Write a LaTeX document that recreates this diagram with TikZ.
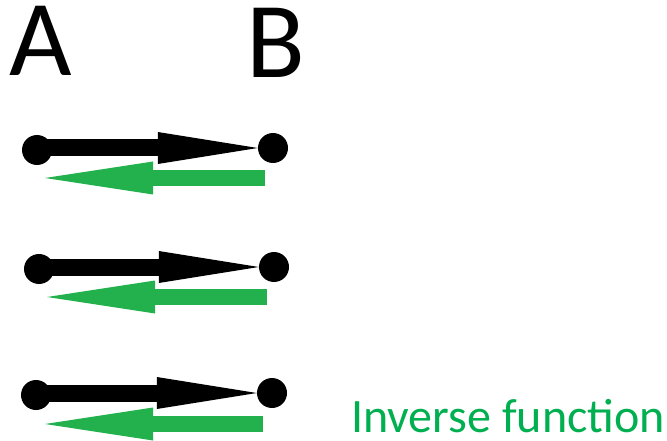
\documentclass[tikz,border=0pt]{standalone}
\usepackage{fontspec}
\setmainfont{Carlito}
\usetikzlibrary{arrows.meta}
\definecolor{paintgreen}{HTML}{22B14C}
\definecolor{textgreen}{HTML}{00B050}
\tikzset{
  dot/.style={circle, fill=black, inner sep=0pt, minimum size=30pt},
  maparrow/.style={line width=17pt, black,
    -{Triangle[length=100pt, width=32pt, line width=0pt]}},
  invarrow/.style={line width=16pt, paintgreen,
    -{Triangle[length=108pt, width=33pt, line width=0pt]}},
  setlabel/.style={font=\fontsize{108}{108}\selectfont, anchor=base, inner sep=0pt}
}
\begin{document}
\begin{tikzpicture}[x=1pt, y=-1pt]
  \useasboundingbox (0,0) rectangle (667,441);

  % set names
  \node[setlabel] (lblA) at (41,76) {A};
  \node[setlabel] (lblB) at (276,78) {B};

  % three element pairs
  \node[dot] (a1) at (37,150) {};
  \node[dot] (b1) at (273,148) {};
  \node[dot] (a2) at (39,269) {};
  \node[dot] (b2) at (274,267) {};
  \node[dot] (a3) at (36,395) {};
  \node[dot] (b3) at (272,393) {};

  % ends of the inverse arrows
  \coordinate (g1s) at (265,178);
  \coordinate (g1e) at (45,178);
  \coordinate (g2s) at (267,297);
  \coordinate (g2e) at (47,297);
  \coordinate (g3s) at (263,424);
  \coordinate (g3e) at (45,424);

  % forward mapping, level with the target dot
  \draw[maparrow] (b1.west -| a1.center) -- (b1.west);
  \draw[maparrow] (b2.west -| a2.center) -- (b2.west);
  \draw[maparrow] (b3.west -| a3.center) -- (b3.west);

  % inverse mapping
  \draw[invarrow] (g1s) -- (g1e);
  \draw[invarrow] (g2s) -- (g2e);
  \draw[invarrow] (g3s) -- (g3e);

  \node[anchor=base west, inner sep=0pt, text=textgreen,
        font=\fontsize{48}{48}\selectfont] (inv) at (351,432) {Inverse function};
\end{tikzpicture}
\end{document}
